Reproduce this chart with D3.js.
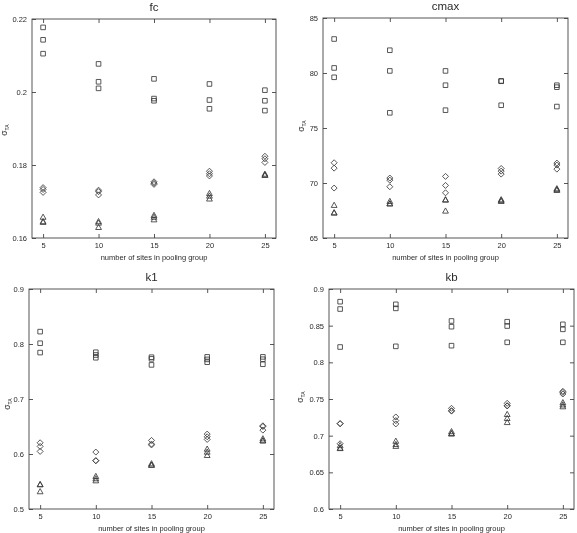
<!DOCTYPE html>
<html>
<head>
<meta charset="utf-8">
<script src="https://cdn.jsdelivr.net/npm/d3@7/dist/d3.min.js"></script>
<style>
  html, body { margin: 0; padding: 0; background: #fff; }
  svg { display: block; will-change: transform; }
  text { font-family: "Liberation Sans", Arial, Helvetica, sans-serif; fill: #2a2a2a; }
</style>
</head>
<body>
<svg id="chart" width="577" height="533"></svg>
<script>
// ---------------- data ----------------
const xSites = [5, 10, 15, 20, 25];
const xTickValues = [5, 10, 15, 20, 25];
const xAxisTitle = "number of sites in pooling group";
const panelTitles = ["fc", "cmax", "k1", "kb"];

// each entry: values at x = 5, 10, 15, 20, 25 (three replicates each)
const fcSquares   = [[0.2177, 0.2143, 0.2105], [0.2077, 0.2028, 0.2010], [0.2036, 0.1982, 0.1976], [0.2022, 0.1978, 0.1954], [0.2005, 0.1976, 0.1949]];
const fcDiamonds  = [[0.1738, 0.1733, 0.1725], [0.1731, 0.1727, 0.1718], [0.1754, 0.1750, 0.1747], [0.1783, 0.1776, 0.1770], [0.1824, 0.1817, 0.1807]];
const fcTriangles = [[0.1657, 0.1645, 0.1643], [0.1645, 0.1641, 0.1629], [0.1662, 0.1657, 0.1650], [0.1722, 0.1715, 0.1707], [0.1775, 0.1772, 0.1772]];

const cmaxSquares   = [[83.09, 80.46, 79.61], [82.07, 80.19, 76.38], [80.19, 78.89, 76.62], [79.28, 79.25, 77.07], [78.89, 78.71, 76.95]];
const cmaxDiamonds  = [[71.84, 71.35, 69.54], [70.45, 70.26, 69.66], [70.60, 69.78, 69.11], [71.32, 71.08, 70.81], [71.81, 71.63, 71.26]];
const cmaxTriangles = [[67.97, 67.30, 67.27], [68.33, 68.12, 68.10], [68.48, 68.45, 67.45], [68.48, 68.40, 68.33], [69.48, 69.40, 69.33]];

const k1Squares   = [[0.8225, 0.8014, 0.7844], [0.7850, 0.7800, 0.7750], [0.7760, 0.7730, 0.7620], [0.7766, 0.7720, 0.7669], [0.7766, 0.7723, 0.7632]];
const k1Diamonds  = [[0.6204, 0.6138, 0.6047], [0.6035, 0.5880, 0.5877], [0.6247, 0.6180, 0.6165], [0.6362, 0.6313, 0.6265], [0.6513, 0.6500, 0.6434]];
const k1Triangles = [[0.5445, 0.5442, 0.5315], [0.5593, 0.5551, 0.5514], [0.5823, 0.5799, 0.5795], [0.6089, 0.6035, 0.5974], [0.6277, 0.6241, 0.6240]];

const kbSquares   = [[0.8827, 0.8727, 0.8209], [0.8791, 0.8736, 0.8218], [0.8564, 0.8486, 0.8227], [0.8554, 0.8495, 0.8273], [0.8518, 0.8450, 0.8273]];
const kbDiamonds  = [[0.7165, 0.7163, 0.6890], [0.7255, 0.7205, 0.7160], [0.7373, 0.7341, 0.7335], [0.7441, 0.7409, 0.7405], [0.7605, 0.7590, 0.7568]];
const kbTriangles = [[0.6865, 0.6830, 0.6825], [0.6925, 0.6880, 0.6855], [0.7055, 0.7030, 0.7023], [0.7290, 0.7235, 0.7180], [0.7450, 0.7420, 0.7395]];

const fcTicks = [0.16, 0.18, 0.2, 0.22];
const fcTickLabels = ["0.16", "0.18", "0.2", "0.22"];
const cmaxTicks = [65, 70, 75, 80, 85];
const cmaxTickLabels = ["65", "70", "75", "80", "85"];
const k1Ticks = [0.5, 0.6, 0.7, 0.8, 0.9];
const k1TickLabels = ["0.5", "0.6", "0.7", "0.8", "0.9"];
const kbTicks = [0.6, 0.65, 0.7, 0.75, 0.8, 0.85, 0.9];
const kbTickLabels = ["0.6", "0.65", "0.7", "0.75", "0.8", "0.85", "0.9"];

// ---------------- layout ----------------
const panels = [
  { title: panelTitles[0], squares: fcSquares, diamonds: fcDiamonds, triangles: fcTriangles,
    ticks: fcTicks, tickLabels: fcTickLabels, yDomain: [0.16, 0.22],
    box: { x0: 32, x1: 276, y0: 19, y1: 238 }, ylab: { x: 7, y: 130 } },
  { title: panelTitles[1], squares: cmaxSquares, diamonds: cmaxDiamonds, triangles: cmaxTriangles,
    ticks: cmaxTicks, tickLabels: cmaxTickLabels, yDomain: [65, 85],
    box: { x0: 323, x1: 568, y0: 18, y1: 238 }, ylab: { x: 304, y: 126 } },
  { title: panelTitles[2], squares: k1Squares, diamonds: k1Diamonds, triangles: k1Triangles,
    ticks: k1Ticks, tickLabels: k1TickLabels, yDomain: [0.5, 0.9],
    box: { x0: 29, x1: 274, y0: 289, y1: 509 }, ylab: { x: 10, y: 404 } },
  { title: panelTitles[3], squares: kbSquares, diamonds: kbDiamonds, triangles: kbTriangles,
    ticks: kbTicks, tickLabels: kbTickLabels, yDomain: [0.6, 0.9],
    box: { x0: 329, x1: 574, y0: 289, y1: 509 }, ylab: { x: 303, y: 397 } }
];

const markerColor = "#3a3a3a";
const frameColor = "#444";
const textColor = "#2a2a2a";
const shapes = {
  square: "M-2.3,-2.3H2.3V2.3H-2.3Z",
  diamond: "M0,-3L3,0L0,3L-3,0Z",
  triangle: "M0,-3.1L2.9,2.1L-2.9,2.1Z"
};

const svg = d3.select("#chart");

panels.forEach(p => {
  const b = p.box;
  const x = d3.scaleLinear().domain([4, 26]).range([b.x0, b.x1]);
  const y = d3.scaleLinear().domain(p.yDomain).range([b.y1, b.y0]);
  const g = svg.append("g");

  const fmt = (d) => p.tickLabels[p.ticks.indexOf(d)];

  // axes with inward ticks on all four sides
  const left = g.append("g").attr("transform", `translate(${b.x0},0)`)
    .call(d3.axisLeft(y).tickValues(p.ticks).tickFormat(fmt).tickSize(-4).tickPadding(5));
  const right = g.append("g").attr("transform", `translate(${b.x1},0)`)
    .call(d3.axisRight(y).tickValues(p.ticks).tickFormat("").tickSize(-4));
  const bottom = g.append("g").attr("transform", `translate(0,${b.y1})`)
    .call(d3.axisBottom(x).tickValues(xTickValues).tickFormat(d3.format("d")).tickSize(-4).tickPadding(5));
  const top = g.append("g").attr("transform", `translate(0,${b.y0})`)
    .call(d3.axisTop(x).tickValues(xTickValues).tickFormat("").tickSize(-4));

  [left, right, bottom, top].forEach(a => {
    a.select(".domain").remove();
    a.selectAll(".tick line").attr("stroke", frameColor).attr("stroke-width", 0.9);
    a.selectAll(".tick text").attr("font-size", 7.5).attr("fill", textColor)
      .attr("font-family", "'Liberation Sans', Arial, sans-serif");
  });

  // frame
  g.append("rect")
    .attr("x", b.x0).attr("y", b.y0)
    .attr("width", b.x1 - b.x0).attr("height", b.y1 - b.y0)
    .attr("fill", "none").attr("stroke", frameColor).attr("stroke-width", 0.9);

  // title
  g.append("text")
    .attr("x", (b.x0 + b.x1) / 2).attr("y", b.y0 - 8)
    .attr("text-anchor", "middle").attr("font-size", 11.5).attr("fill", textColor)
    .text(p.title);

  // x-axis title
  g.append("text")
    .attr("x", (b.x0 + b.x1) / 2).attr("y", b.y1 + 21.5)
    .attr("text-anchor", "middle").attr("font-size", 7.5).attr("fill", textColor)
    .text(xAxisTitle);

  // y-axis title: sigma with subscript TA
  const yl = g.append("text")
    .attr("transform", `translate(${p.ylab.x},${p.ylab.y}) rotate(-90)`)
    .attr("text-anchor", "middle").attr("font-size", 8.5).attr("fill", textColor);
  yl.append("tspan").text("σ");
  yl.append("tspan").attr("font-size", 5).attr("dy", 1.8).text("TA");

  // markers
  const series = [
    { vals: p.squares, shape: shapes.square },
    { vals: p.diamonds, shape: shapes.diamond },
    { vals: p.triangles, shape: shapes.triangle }
  ];
  series.forEach(s => {
    const pts = [];
    s.vals.forEach((arr, i) => arr.forEach(v => pts.push({ x: xSites[i], v })));
    g.append("g").selectAll("path").data(pts).join("path")
      .attr("d", s.shape)
      .attr("transform", d => `translate(${x(d.x)},${y(d.v)})`)
      .attr("fill", "none")
      .attr("stroke", markerColor)
      .attr("stroke-width", 0.85);
  });
});
</script>
</body>
</html>
